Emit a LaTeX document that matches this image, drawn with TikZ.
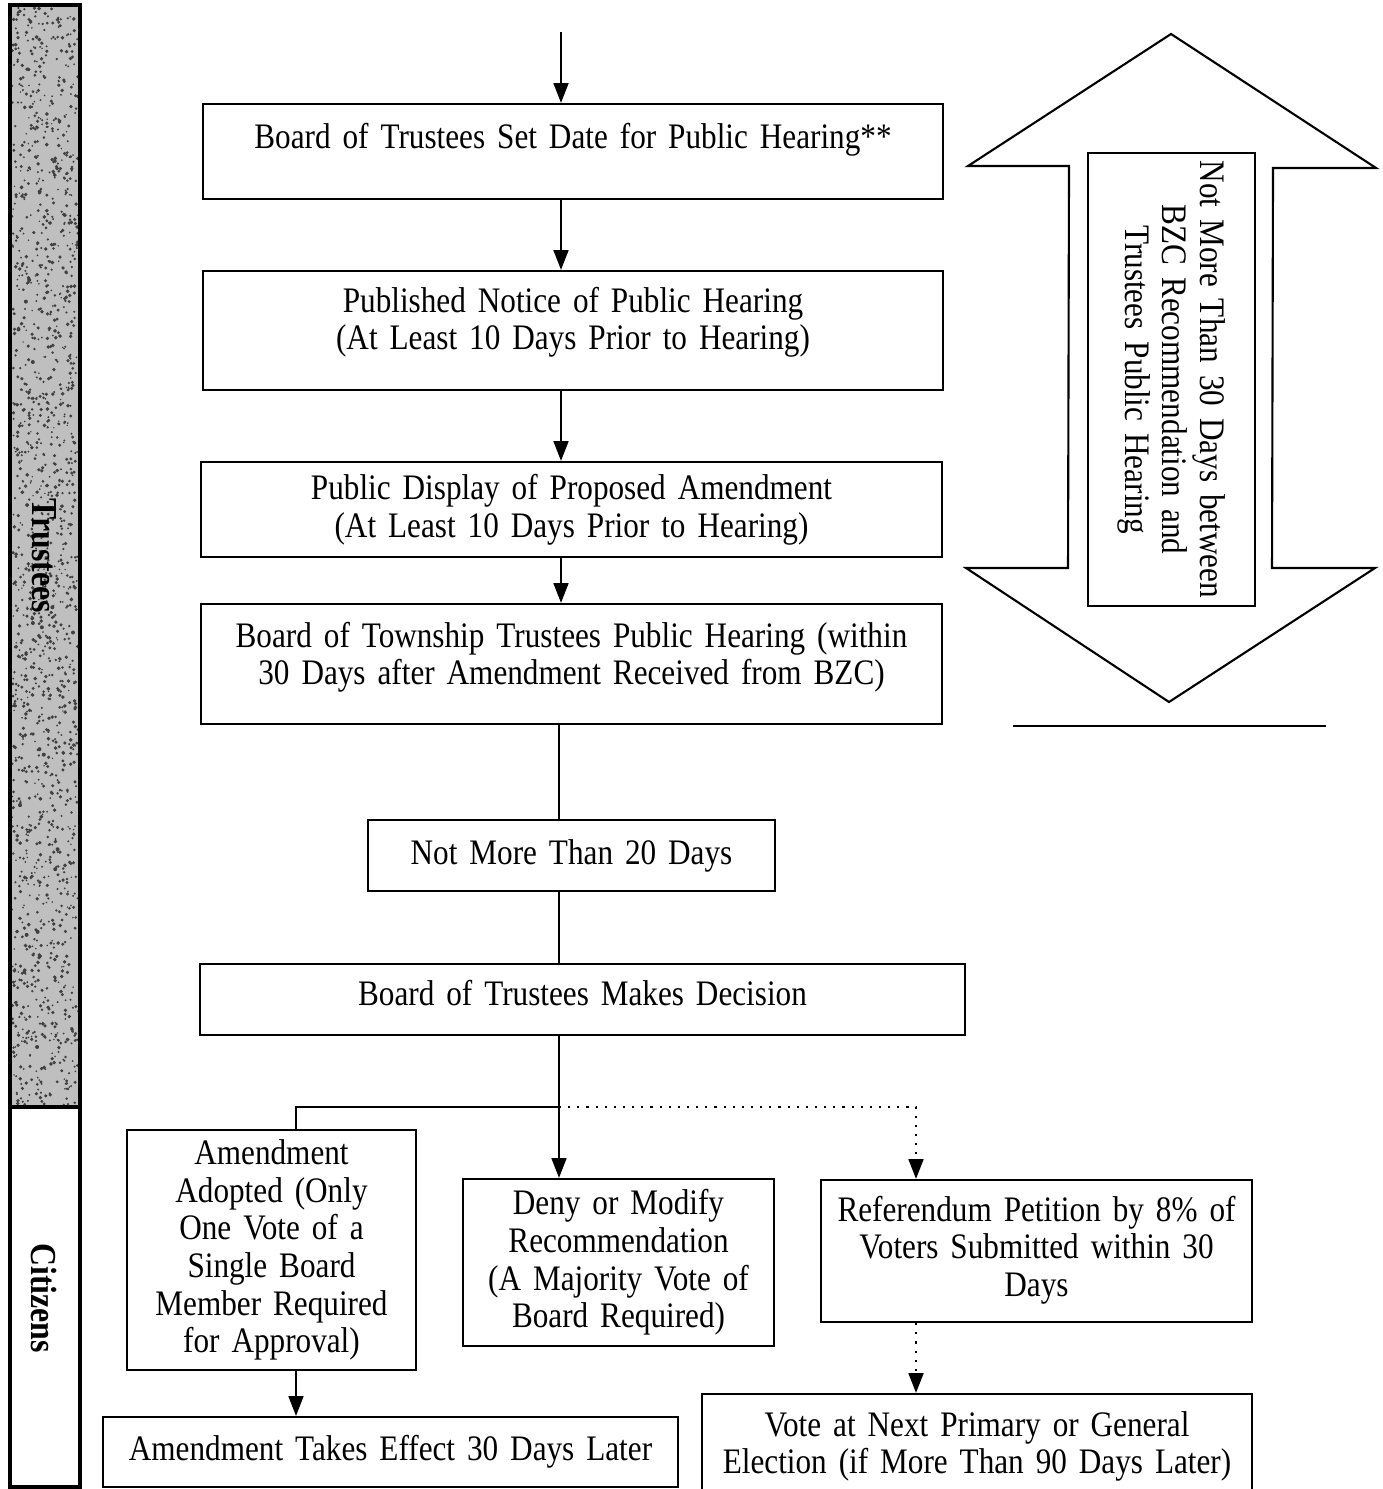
\documentclass[tikz,border=0pt]{standalone}
\usepackage{fontspec}
\setmainfont[FakeStretch=0.87]{Liberation Serif}
\usetikzlibrary{arrows.meta}

\newcommand\tightspace{\spaceskip=0.17em plus 0.05em minus 0.02em\relax}
\tikzset{stepbox/.style={draw,line width=0.6pt,align=center,inner sep=0pt},
flow/.style={line width=0.6pt,-{Triangle[width=4.2pt,length=5.6pt]}},
plain/.style={line width=0.6pt},
lane/.style={rotate=-90,font=\fontsize{10.4}{11}\selectfont\bfseries}}

\begin{document}
\begin{tikzpicture}
[x=0.01cm,y=-0.01cm,
font=\fontsize{10.2}{10.7}\selectfont\tightspace]
\clip (0,0) rectangle (1382,1489);

% side lanes
\fill[black!25] (10,5) rectangle (80,1107);
\pgfmathsetseed{7}
\foreach \i in {1,...,1600}
	\fill[black!75] (12+66*rnd,7+1098*rnd) circle (0.8+1.2*rnd);
\draw[line width=0.9pt] (10,5) rectangle (80,1487);
\draw[line width=0.9pt] (10,1107) -- (80,1107);
\node[lane] (trustees) at (44,556) {Trustees};
\node[lane] (citizens) at (44,1298) {Citizens};

% main steps
\node [stepbox,minimum width=7.4cm,minimum height=0.95cm,text width=7.2cm] (pubdate) at (573,151.5)
	{Board of Trustees Set Date for Public Hearing**\\[-1.1ex] \strut};
\node [stepbox,minimum width=7.4cm,minimum height=1.19cm,text width=7.2cm] (notice) at (573,330.5)
	{Published Notice of Public Hearing\\(At Least 10 Days Prior to Hearing)\\[-1.5ex]\strut};
\node [stepbox,minimum width=7.41cm,minimum height=0.95cm,text width=7.2cm] (display) at (571.5,509.5)
	{Public Display of Proposed Amendment\\(At Least 10 Days Prior to Hearing)};
\node [stepbox,minimum width=7.41cm,minimum height=1.2cm,text width=7.2cm] (hearing) at (571.5,664)
	{Board of Township Trustees Public Hearing (within\\30 Days after Amendment Received from BZC)\\[-1.7ex]\strut};
\node [stepbox,minimum width=4.07cm,minimum height=0.71cm,text width=3.9cm] (twenty) at (571.5,855.5)
	{Not More Than 20 Days};
\node [stepbox,minimum width=7.65cm,minimum height=0.71cm,text width=7.4cm] (decision) at (582.5,999.5)
	{Board of Trustees Makes Decision\\[-2.2ex]\strut};

% outcomes
\node [stepbox,minimum width=2.89cm,minimum height=2.4cm,text width=2.8cm] (adopted) at (271.5,1250)
	{Amendment\\Adopted (Only\\One Vote of a\\Single Board\\Member Required\\for Approval)};
\node [stepbox,minimum width=3.11cm,minimum height=1.67cm,text width=3cm] (deny) at (618.5,1262.5)
	{Deny or Modify\\Recommendation\\(A Majority Vote of\\Board Required)};
\node [stepbox,minimum width=4.31cm,minimum height=1.42cm,text width=4.2cm] (referendum) at (1036.5,1251)
	{Referendum Petition by 8\% of\\Voters Submitted within 30\\Days\\[-2.4ex]\strut};
\node [stepbox,minimum width=5.75cm,minimum height=0.7cm,text width=5.6cm] (effect) at (390.5,1452)
	{Amendment Takes Effect 30 Days Later};
\node [stepbox,minimum width=5.5cm,minimum height=1.16cm,text width=5.4cm] (vote) at (977,1452)
	{Vote at Next Primary or General\\Election (if More Than 90 Days Later)\\[-1.8ex]\strut};

% connectors
\coordinate (entry) at (561,32);
\coordinate (split) at (559,1107);
\coordinate (leftturn) at (296,1107);
\coordinate (rightturn) at (916,1107);
\draw [flow] (entry) -- (entry |- pubdate.north);
\draw [flow] (entry |- pubdate.south) -- (entry |- notice.north);
\draw [flow] (entry |- notice.south) -- (entry |- display.north);
\draw [flow] (entry |- display.south) -- (entry |- hearing.north);
\draw [plain] (split |- hearing.south) -- (split |- twenty.north);
\draw [plain] (split |- twenty.south) -- (split |- decision.north);
\draw [plain] (split |- decision.south) -- (split);
\draw [plain] (split) -- (leftturn) -- (leftturn |- adopted.north);
\draw [flow] (split) -- (split |- deny.north);
\draw [flow,dotted] (split) -- (rightturn) -- (rightturn |- referendum.north);
\draw [flow] (leftturn |- adopted.south) -- (leftturn |- effect.north);
\draw [flow,dotted] (rightturn |- referendum.south) -- (rightturn |- vote.north);

% time window
\draw [plain] (1171,34) -- (1376,168) -- (1273,168) -- (1272,568) -- (1375,568) -- (1169,702)
	-- (966,568) -- (1068,568) -- (1069,166) -- (968,166) -- cycle;
\node [stepbox,rotate=-90,minimum width=4.53cm,minimum height=1.67cm,text width=4.45cm] (window) at (1171.5,379.5)
	{Not More Than 30 Days between\\BZC Recommendation and\\Trustees Public Hearing};
\draw [plain] (1013,726) -- (1326,726);
\end{tikzpicture}
\end{document}
